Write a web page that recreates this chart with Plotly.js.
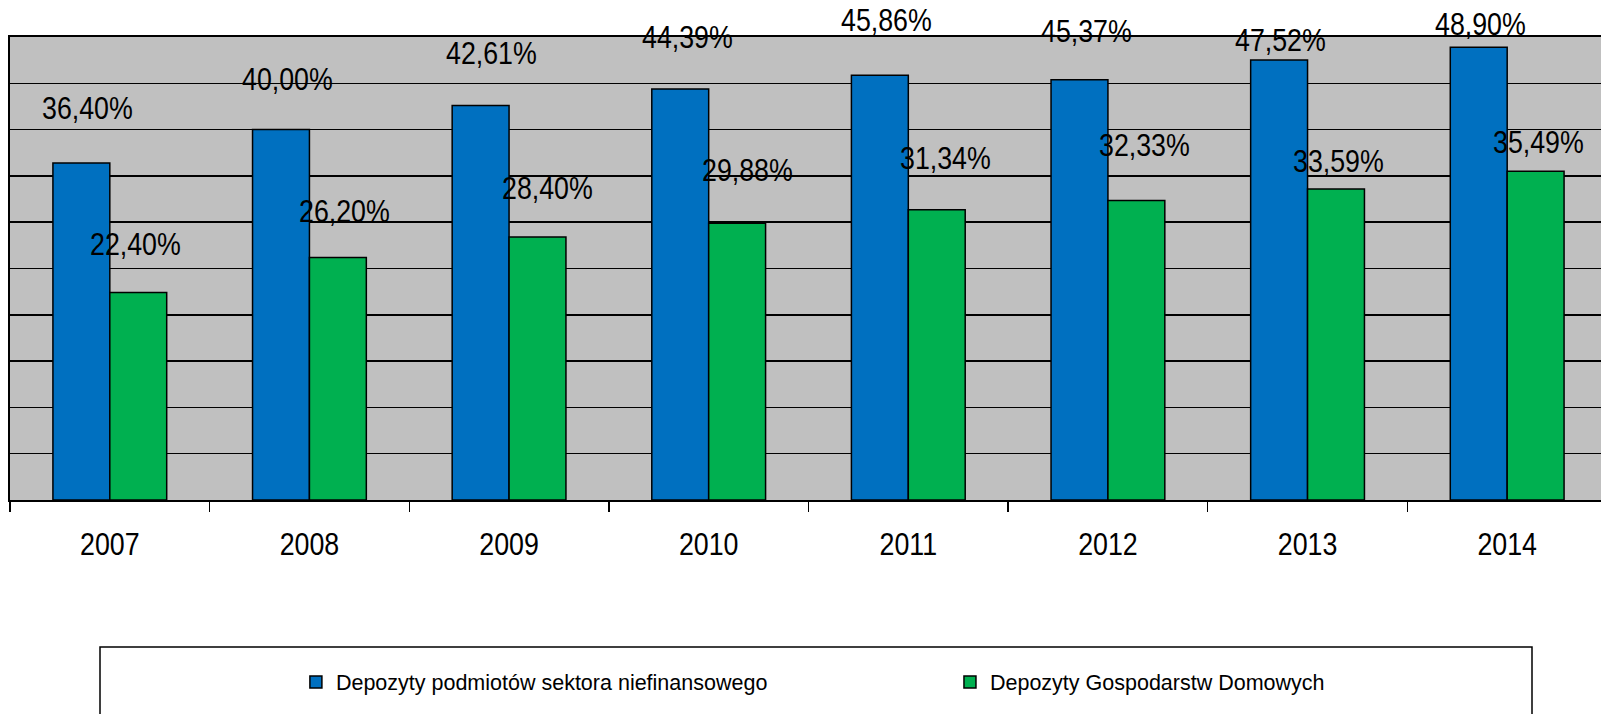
<!DOCTYPE html>
<html>
<head>
<meta charset="utf-8">
<script src="https://cdn.plot.ly/plotly-3.0.1.min.js"></script>
<style>
  html, body { margin: 0; padding: 0; background: #ffffff; }
  #chart { width: 1601px; height: 714px; }
</style>
</head>
<body>
<div id="chart"></div>
<script>
// ---- data ----
const years = ['2007', '2008', '2009', '2010', '2011', '2012', '2013', '2014'];
const nonFinancialDeposits = [36.40, 40.00, 42.61, 44.39, 45.86, 45.37, 47.52, 48.90];
const householdDeposits = [22.40, 26.20, 28.40, 29.88, 31.34, 32.33, 33.59, 35.49];
const seriesNames = ['Depozyty podmiotów sektora niefinansowego', 'Depozyty Gospodarstw Domowych'];

// ---- style ----
const BLUE = '#0070C0';
const GREEN = '#00B050';
const SANS = '"Liberation Sans", Arial, sans-serif';
const BARGAP = 0.43;
const CONDENSE = 0.85;   // the original uses a narrow face for labels and ticks
// label offsets (pixels) from the top of each bar, as placed in the original
const liftBlue = [55, 51, 52, 52, 55, 49, 20, 23];
const liftGreen = [49, 46, 49, 53, 52, 56, 28, 29];
const nudgeBlue = [6, 7, 11, 7, 7, 7, 1, 2];
const nudgeGreen = [-3, 7, 10, 10, 9, 8, 2, 3];

const fmt = v => v.toFixed(2).replace('.', ',') + '%';

const traces = [
  {
    type: 'bar', name: seriesNames[0], x: years, y: nonFinancialDeposits,
    marker: { color: BLUE, line: { color: '#000000', width: 1.5 } },
    legend: 'legend', hoverinfo: 'skip'
  },
  {
    type: 'bar', name: seriesNames[1], x: years, y: householdDeposits,
    marker: { color: GREEN, line: { color: '#000000', width: 1.5 } },
    legend: 'legend2', hoverinfo: 'skip'
  }
];

const quarter = (1 - BARGAP) / 4;
const annotations = [];
years.forEach((yr, i) => {
  annotations.push({
    x: i - quarter, y: nonFinancialDeposits[i], xref: 'x', yref: 'y',
    text: fmt(nonFinancialDeposits[i]), showarrow: false,
    xanchor: 'center', yanchor: 'middle',
    xshift: nudgeBlue[i], yshift: liftBlue[i],
    font: { family: SANS, size: 31.5, color: '#000000' }
  });
  annotations.push({
    x: i + quarter, y: householdDeposits[i], xref: 'x', yref: 'y',
    text: fmt(householdDeposits[i]), showarrow: false,
    xanchor: 'center', yanchor: 'middle',
    xshift: nudgeGreen[i], yshift: liftGreen[i],
    font: { family: SANS, size: 31.5, color: '#000000' }
  });
});

const layout = {
  width: 1601, height: 714,
  margin: { l: 10, r: 0, t: 37, b: 214, pad: 0 },
  paper_bgcolor: '#ffffff',
  plot_bgcolor: '#C0C0C0',
  barmode: 'group', bargap: BARGAP, bargroupgap: 0,
  showlegend: true,
  xaxis: {
    type: 'category', range: [-0.5, 7.47],
    showgrid: false, zeroline: false,
    showline: true, linecolor: '#000000', linewidth: 2, mirror: true,
    ticks: 'outside', tickson: 'boundaries', ticklen: 10, tickwidth: 1.5, tickcolor: '#000000',
    tickfont: { family: SANS, size: 31.5, color: '#000000' },
    ticklabelstandoff: 15
  },
  yaxis: {
    range: [0, 50], dtick: 5, tick0: 0,
    showgrid: true, gridcolor: '#000000', gridwidth: 1.5,
    zeroline: false, showticklabels: false, ticks: '',
    showline: true, linecolor: '#000000', linewidth: 2
  },
  legend: {
    orientation: 'h', x: 0.1797, xanchor: 'left', y: -0.393, yanchor: 'middle',
    bgcolor: 'rgba(0,0,0,0)', borderwidth: 0,
    font: { family: SANS, size: 21.5, color: '#000000' }
  },
  legend2: {
    orientation: 'h', x: 0.5908, xanchor: 'left', y: -0.393, yanchor: 'middle',
    bgcolor: 'rgba(0,0,0,0)', borderwidth: 0,
    font: { family: SANS, size: 21.5, color: '#000000' }
  },
  shapes: [
    {
      type: 'rect', xref: 'paper', yref: 'paper',
      x0: (100 - 10) / 1591, x1: (1532 - 10) / 1591,
      y0: (500 - 740) / 463, y1: (500 - 647) / 463,
      line: { color: '#000000', width: 1.5 }, fillcolor: 'rgba(0,0,0,0)', layer: 'below'
    }
  ],
  annotations: annotations
};

function condense(selector, s) {
  document.querySelectorAll(selector).forEach(t => {
    const b = t.getBBox();
    const cx = b.x + b.width / 2;
    const prev = t.getAttribute('transform') || '';
    t.setAttribute('transform', prev + ' translate(' + cx + ',0) scale(' + s + ',1) translate(' + (-cx) + ',0)');
  });
}

Plotly.newPlot('chart', traces, layout, { displayModeBar: false, staticPlot: true }).then(() => {
  condense('#chart .annotation-text', CONDENSE);
  condense('#chart .xtick text', CONDENSE);
});
</script>
</body>
</html>
